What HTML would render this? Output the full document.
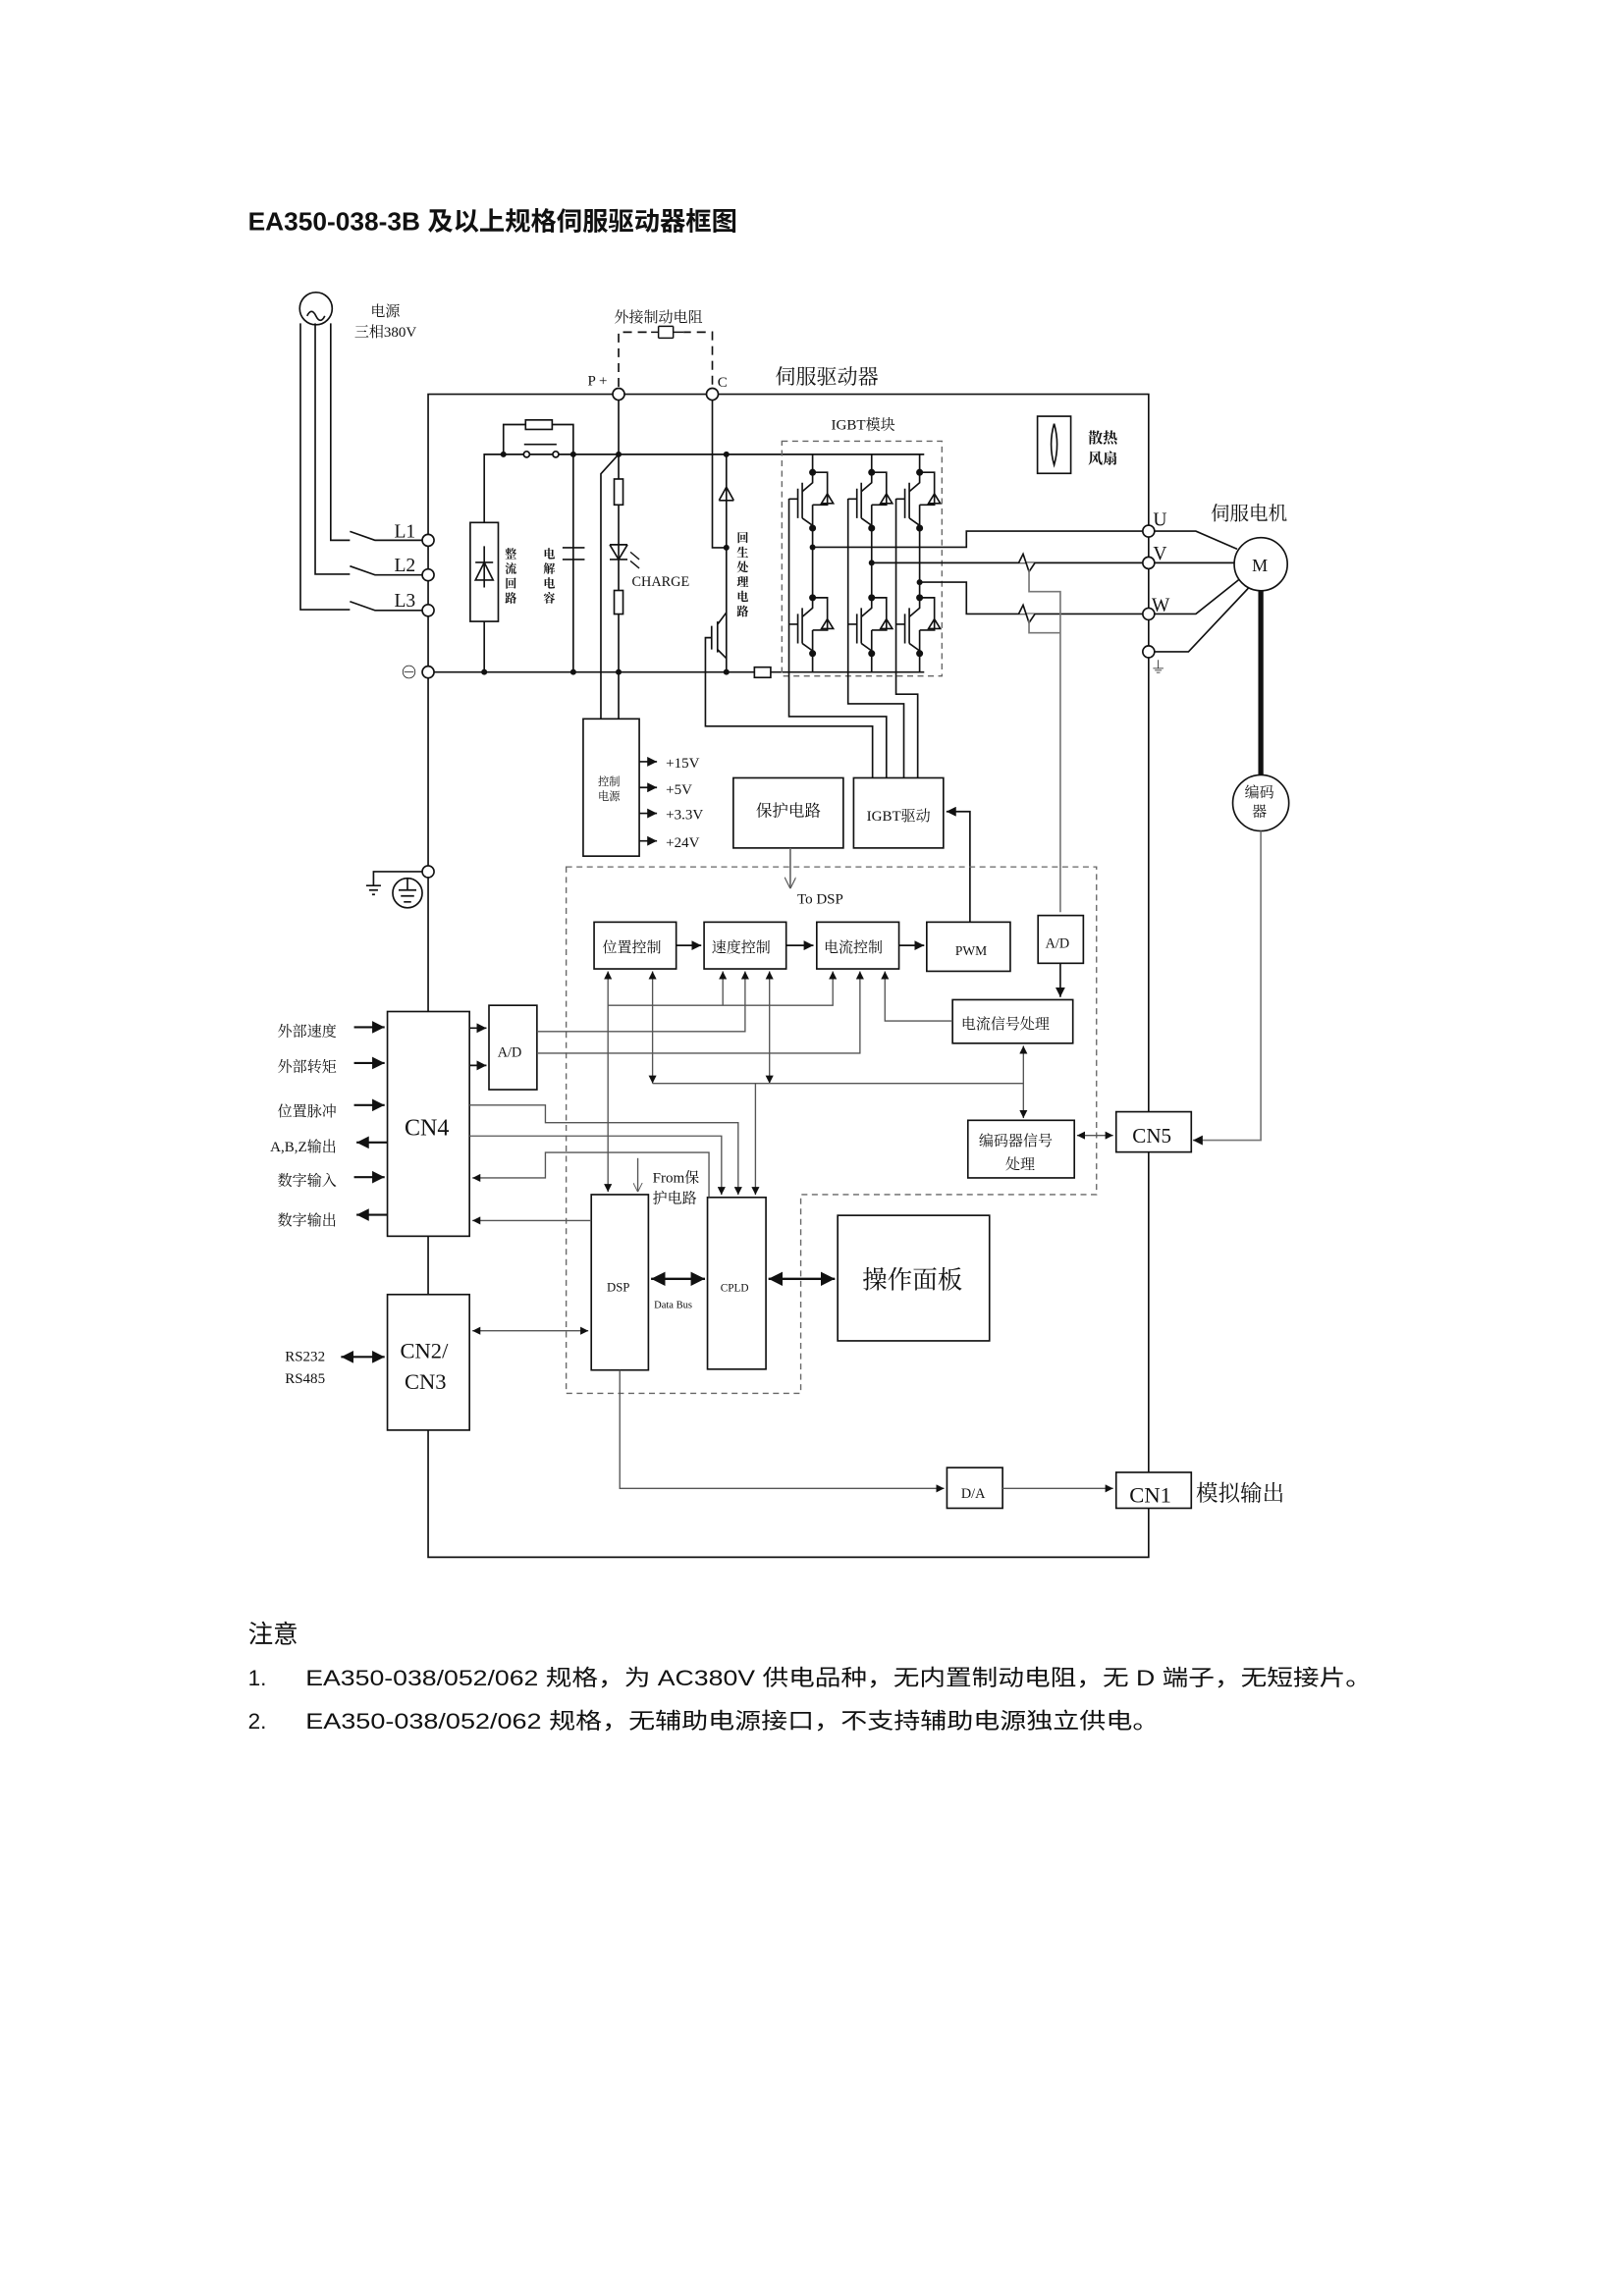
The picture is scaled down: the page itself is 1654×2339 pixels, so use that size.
<!DOCTYPE html>
<html><head><meta charset="utf-8"><style>
html,body{margin:0;padding:0;background:#fff}
svg{display:block}
text{font-family:"Liberation Serif","Noto Serif CJK SC","Noto Sans CJK SC",serif;fill:#111}
text.s{font-family:"Liberation Sans","Noto Sans CJK SC",sans-serif}
</style></head><body>
<svg width="1654" height="2339" viewBox="0 0 1100 1555.5" xmlns="http://www.w3.org/2000/svg">
<defs>
<marker id="a" viewBox="0 0 10 10" refX="10" refY="5" markerWidth="6" markerHeight="6" orient="auto-start-reverse"><path d="M0,0L10,5L0,10z" fill="#111"/></marker>
<marker id="o" viewBox="0 0 10 10" refX="10" refY="5" markerWidth="7" markerHeight="7" orient="auto"><path d="M0,0L10,5L0,10" fill="none" stroke="#555" stroke-width="1"/></marker>
<g id="igbt" fill="none" stroke="#111" stroke-width="1.1">
<path d="M0,0H10V22H0 M0,22V37.8"/>
<path d="M0,0V7L-7,13 M-7,31L0,36V37.8"/>
<path d="M-7,7V31 M-10,11V31 M-10,18H-16"/>
<path d="M6,21H14 M10,14.5L6,21H14z"/>
<circle cx="0" cy="0" r="1.8" fill="#111"/><circle cx="0" cy="37.8" r="1.8" fill="#111"/>
</g>
</defs>
<rect width="1100" height="1555.5" fill="#fff"/>
<text x="168" y="156" class="s" font-size="17.5" font-weight="bold">EA350-038-3B 及以上规格伺服驱动器框图</text>

<g fill="none" stroke="#111" stroke-width="1.1">
<path d="M290,267H778V1055H290Z"/>
<circle cx="214" cy="209" r="11"/>
<path d="M208,214q3,-6 6,0q3,6 6,0"/>
<path d="M224,219V366H237 M213.5,219V389H237 M203.5,219V413H237"/>
<path d="M237,360L254,366H290 M237,383.5L254,389.5H290 M237,407.5L254,413.5H290"/>
<rect x="318.5" y="354" width="19" height="67" fill="#fff"/>
<path d="M328,354V307.8H626 M328,421V455.3 M290,455.3H626"/>
<path d="M322,381H334 M328,370V398 M322,393L328,381L334,393Z"/>
<path d="M341,307.8V287.6H356 M374,287.6H388.3V307.8"/>
<rect x="356" y="284.5" width="18" height="6.4"/>
<path d="M355,301H377"/>
<path d="M388.3,307.8V455.3 M381,371H396 M381,379H396"/>
<path d="M419,267V307.8L407,321V488"/>
<path d="M419,307.8V488"/>
<rect x="416" y="324.5" width="6" height="17.5" fill="#fff"/>
<rect x="416" y="400" width="6" height="16" fill="#fff"/>
<path d="M413,369H425 M413,369L419,379L425,369 M413,379H425"/>
<path d="M427,374l6,5 M427,380l6,5" stroke-width="0.9"/>
<path d="M482.5,267V371H492 M492,307.8V455.3"/>
<path d="M487,339H497 M487,339L492,330L497,339"/>
<path d="M492,415L486,423 M486,440L492,446 M486,421V442 M482,424V440 M482,432H477.8V492H591V527"/>
<path d="M419,262V225H482.5V262" stroke-dasharray="6,4"/>
<rect x="441" y="222" width="22" height="6" fill="#fff" stroke="none"/>
<path d="M441,225H446 M446,221V229 M446,221H456 M446,229H456 M456,225H463 M456,221V229" stroke-width="1"/>
<rect x="529.6" y="298.9" width="108.4" height="159.1" stroke="#666" stroke-dasharray="4,3" stroke-width="0.9"/>
<path d="M550.4,307.8V320 M590.4,307.8V320 M622.9,307.8V320"/>
<path d="M550.4,357.8V404.9 M590.4,357.8V404.9 M622.9,357.8V404.9"/>
<path d="M550.4,442.7V455 M590.4,442.7V455 M622.9,442.7V455"/>
<path d="M550.4,370.7H654.6V359.8H778 M590.4,381.3H778 M622.9,394.4H654.6V415.9H778"/>
<path d="M690,381.3l3,-6l4,12l4,-6" fill="#fff"/>
<path d="M690,415.9l3,-6l4,12l4,-6" fill="#fff"/>
<path d="M697,386V400.8H718.2V618 M697,420V428.7H718.2" stroke="#777"/>
<path d="M534.4,337.8V485.4H600.4V527 M574.4,337.8V476.8H612.2V527 M606.9,337.8V470.3H621.6V527"/>
<rect x="511" y="452" width="11" height="7" fill="#fff"/>
<path d="M778,359.8H810L838,372 M778,381.3H836 M778,415.9H810L840,392 M778,441.5H805L846,398"/>
<circle cx="854" cy="382.2" r="18" fill="#fff"/>
<path d="M854,400V525" stroke-width="3.5"/>
<circle cx="854" cy="544" r="19" fill="#fff"/>
<path d="M854,563V772.5H808" stroke="#777" marker-end="url(#a)"/>
<rect x="702.7" y="282" width="22.6" height="38.7"/>
<path d="M714,287q-4,14 0,28q4,-14 0,-28"/>
<rect x="395" y="487" width="38" height="93" fill="#fff"/>
<path d="M433,516H445" marker-end="url(#a)"/>
<path d="M433,533.5H445" marker-end="url(#a)"/>
<path d="M433,551H445" marker-end="url(#a)"/>
<path d="M433,569.7H445" marker-end="url(#a)"/>
<rect x="496.7" y="527" width="74.5" height="47.5"/>
<rect x="578.2" y="527" width="60.8" height="47.5"/>
<path d="M535.3,574.5V602" stroke="#666" marker-end="url(#o)"/>
<path d="M657,624.7V549.8H641" marker-end="url(#a)"/>
<path d="M290,590.5H253V600 M248,600H258 M250,603H256 M252,606H254"/>
<circle cx="276" cy="605" r="10"/>
<path d="M276,595V603 M270,603H282 M271.5,607H280.5 M273.5,611H278.5"/>
<path d="M383.5,587.3H742.7V809.3H542.4V944H383.5Z" stroke="#666" stroke-dasharray="4,3" stroke-width="0.9"/>
<rect x="402.4" y="624.7" width="55.6" height="31.7"/>
<rect x="476.9" y="624.7" width="55.6" height="31.7"/>
<rect x="553.2" y="624.7" width="55.7" height="31.7"/>
<rect x="627.7" y="624.7" width="56.6" height="33.3"/>
<rect x="703.1" y="620.2" width="30.7" height="32.4"/>
<rect x="645.2" y="677.3" width="81.5" height="29.5" fill="#fff"/>
<rect x="655.6" y="759" width="72.1" height="39"/>
<rect x="756" y="753.2" width="50.9" height="27.3" fill="#fff"/>
<rect x="262.4" y="685.3" width="55.6" height="152.2" fill="#fff"/>
<rect x="331.2" y="681.1" width="32.5" height="57.1"/>
<rect x="262.4" y="877" width="55.6" height="91.9" fill="#fff"/>
<rect x="400.5" y="809.3" width="38.7" height="118.9"/>
<rect x="479.2" y="811.2" width="39.6" height="116.4"/>
<rect x="567.4" y="823.4" width="102.8" height="85"/>
<rect x="641.4" y="994.3" width="37.7" height="27.5"/>
<rect x="756" y="997.5" width="50.9" height="24.3" fill="#fff"/>
<path d="M458,640.5H475" marker-end="url(#a)"/>
<path d="M532.5,640.5H551" marker-end="url(#a)"/>
<path d="M608.9,640.5H626" marker-end="url(#a)"/>
<path d="M718.2,652.6V675.5" marker-end="url(#a)"/>
</g>
<g fill="none" stroke="#555" stroke-width="0.9">
<path d="M411.8,807.5V658" marker-start="url(#a)" marker-end="url(#a)"/>
<path d="M411.8,681.1H564.1V658" marker-end="url(#a)"/>
<path d="M489.6,681.1V658" marker-end="url(#a)"/>
<path d="M363.7,698.8H504.7V658" marker-end="url(#a)"/>
<path d="M363.7,713.5H582.5V658" marker-end="url(#a)"/>
<path d="M645.2,691.7H599.4V658" marker-end="url(#a)"/>
<path d="M442,734V658" marker-start="url(#a)" marker-end="url(#a)"/>
<path d="M521.2,734V658" marker-start="url(#a)" marker-end="url(#a)"/>
<path d="M442,734H693.2"/>
<path d="M693.2,757.5V708.5" marker-start="url(#a)" marker-end="url(#a)"/>
<path d="M511.7,734V809.5" marker-end="url(#a)"/>
<path d="M318,748.7H369.4V760.6H500V809.5" marker-end="url(#a)"/>
<path d="M318,769.6H488.7V809.5" marker-end="url(#a)"/>
<path d="M480.2,811V780.8H369.4V798H320" marker-end="url(#a)"/>
<path d="M400.5,826.9H320" marker-end="url(#a)"/>
<path d="M432,784.6V807.5" marker-end="url(#o)"/>
<path d="M320,901.6H398.5" marker-start="url(#a)" marker-end="url(#a)"/>
<path d="M419.8,928.2V1008.4H639.5" marker-end="url(#a)"/>
<path d="M679.1,1008.4H754" marker-end="url(#a)"/>
<path d="M729.5,769.2H754" marker-start="url(#a)" marker-end="url(#a)"/>
</g>
<g fill="none" stroke="#111" stroke-width="1.1">
<path d="M318,696.5H329.5" marker-end="url(#a)"/>
<path d="M318,721.8H329.5" marker-end="url(#a)"/>
<path d="M441,866.4H477.5" marker-start="url(#a)" marker-end="url(#a)" stroke-width="1.6"/>
<path d="M520.5,866.4H565.5" marker-start="url(#a)" marker-end="url(#a)" stroke-width="1.6"/>
</g>
<g fill="none" stroke="#111" stroke-width="1.4">
<path d="M239.8,695.9H260.5" marker-end="url(#a)"/>
<path d="M239.8,720.2H260.5" marker-end="url(#a)"/>
<path d="M239.8,748.7H260.5" marker-end="url(#a)"/>
<path d="M239.8,797.5H260.5" marker-end="url(#a)"/>
<path d="M262.4,774H241.5" marker-end="url(#a)"/>
<path d="M262.4,823H241.5" marker-end="url(#a)"/>
<path d="M231,919.3H260.5" marker-start="url(#a)" marker-end="url(#a)"/>
</g>
<use href="#igbt" x="550.4" y="320"/><use href="#igbt" x="590.4" y="320"/><use href="#igbt" x="622.9" y="320"/>
<use href="#igbt" x="550.4" y="404.9"/><use href="#igbt" x="590.4" y="404.9"/><use href="#igbt" x="622.9" y="404.9"/>
<g fill="#fff" stroke="#111" stroke-width="1.1">
<circle cx="290" cy="366" r="4"/><circle cx="290" cy="389.5" r="4"/><circle cx="290" cy="413.5" r="4"/><circle cx="290" cy="455.3" r="4"/><circle cx="290" cy="590.5" r="4"/>
<circle cx="419" cy="267" r="4"/><circle cx="482.5" cy="267" r="4"/>
<circle cx="778" cy="359.8" r="4"/><circle cx="778" cy="381.3" r="4"/><circle cx="778" cy="415.9" r="4"/><circle cx="778" cy="441.5" r="4"/>
<circle cx="356.7" cy="307.8" r="2"/><circle cx="376.4" cy="307.8" r="2"/>
</g>
<g fill="#111">
<circle cx="341" cy="307.8" r="2"/><circle cx="388.3" cy="307.8" r="2"/><circle cx="419" cy="307.8" r="2"/><circle cx="492" cy="307.8" r="2"/>
<circle cx="328" cy="455.3" r="2"/><circle cx="388.3" cy="455.3" r="2"/><circle cx="419" cy="455.3" r="2"/><circle cx="492" cy="455.3" r="2"/><circle cx="492" cy="371" r="2"/>
<circle cx="550.4" cy="370.7" r="2"/><circle cx="590.4" cy="381.3" r="2"/><circle cx="622.9" cy="394.4" r="2"/>
</g>
<g font-size="10">
<text x="251" y="214">电源</text><text x="240" y="228">三相380V</text>
<text x="416" y="218">外接制动电阻</text>
<text x="398" y="261">P +</text><text x="486" y="262">C</text>
<text x="525" y="260" font-size="14">伺服驱动器</text>
<text x="563" y="291">IGBT模块</text>
<text x="737" y="300" font-weight="bold">散热</text><text x="737" y="314" font-weight="bold">风扇</text>
<text x="820" y="352" font-size="13">伺服电机</text>
<text x="848" y="387" font-size="12">M</text>
<text x="781" y="356" font-size="13">U</text><text x="781" y="379" font-size="13">V</text><text x="780" y="414" font-size="13">W</text>
<text x="779" y="456" font-size="11">⏚</text>
<text x="267" y="364" font-size="13">L1</text><text x="267" y="387" font-size="13">L2</text><text x="267" y="411" font-size="13">L3</text>
<text x="271" y="460" font-size="12">⊖</text>
<text x="342" y="378" font-size="8" font-weight="bold">整</text><text x="342" y="388" font-size="8" font-weight="bold">流</text><text x="342" y="398" font-size="8" font-weight="bold">回</text><text x="342" y="408" font-size="8" font-weight="bold">路</text>
<text x="368" y="378" font-size="8" font-weight="bold">电</text><text x="368" y="388" font-size="8" font-weight="bold">解</text><text x="368" y="398" font-size="8" font-weight="bold">电</text><text x="368" y="408" font-size="8" font-weight="bold">容</text>
<text x="499" y="367" font-size="8" font-weight="bold">回</text><text x="499" y="377" font-size="8" font-weight="bold">生</text><text x="499" y="387" font-size="8" font-weight="bold">处</text><text x="499" y="397" font-size="8" font-weight="bold">理</text><text x="499" y="407" font-size="8" font-weight="bold">电</text><text x="499" y="417" font-size="8" font-weight="bold">路</text>
<text x="428" y="397" font-size="9.5">CHARGE</text>
<text x="405" y="532" font-size="7.5">控制</text><text x="405" y="542" font-size="7.5">电源</text>
<text x="451" y="520">+15V</text><text x="451" y="538">+5V</text><text x="451" y="555">+3.3V</text><text x="451" y="574">+24V</text>
<text x="512" y="553" font-size="11">保护电路</text>
<text x="587" y="556">IGBT驱动</text>
<text x="540" y="612">To DSP</text>
<text x="843" y="540" font-size="10">编码</text><text x="848" y="553" font-size="10">器</text>
<text x="408" y="645">位置控制</text><text x="482" y="645">速度控制</text><text x="558" y="645">电流控制</text>
<text x="647" y="647" font-size="9">PWM</text>
<text x="708" y="642" font-size="9.5">A/D</text>
<text x="651" y="697">电流信号处理</text>
<text x="663" y="776">编码器信号</text><text x="681" y="792">处理</text>
<text x="767" y="774" font-size="14">CN5</text>
<text x="337" y="716" font-size="9.5">A/D</text>
<text x="274" y="769" font-size="16">CN4</text>
<text x="271" y="920" font-size="15">CN2/</text><text x="274" y="941" font-size="15">CN3</text>
<text x="411" y="875" font-size="8.5">DSP</text>
<text x="488" y="875" font-size="7.5">CPLD</text>
<text x="443" y="886" font-size="7">Data Bus</text>
<text x="584" y="873" font-size="17">操作面板</text>
<text x="442" y="801">From保</text><text x="442" y="815">护电路</text>
<text x="651" y="1015" font-size="9.5">D/A</text>
<text x="765" y="1018" font-size="15">CN1</text>
<text x="810" y="1017" font-size="15">模拟输出</text>
<text x="188" y="702">外部速度</text><text x="188" y="726">外部转矩</text><text x="188" y="756">位置脉冲</text>
<text x="183" y="780">A,B,Z输出</text><text x="188" y="803">数字输入</text><text x="188" y="830">数字输出</text>
<text x="193" y="922">RS232</text><text x="193" y="937">RS485</text>
</g>
<text class="s" x="168" y="1113" font-size="17">注意</text>
<text class="s" x="168" y="1142" font-size="15">1.</text>
<text class="s" x="207" y="1142" font-size="15" textLength="722" lengthAdjust="spacingAndGlyphs">EA350-038/052/062 规格，为 AC380V 供电品种，无内置制动电阻，无 D 端子，无短接片。</text>
<text class="s" x="168" y="1171" font-size="15">2.</text>
<text class="s" x="207" y="1171" font-size="15" textLength="578" lengthAdjust="spacingAndGlyphs">EA350-038/052/062 规格，无辅助电源接口，不支持辅助电源独立供电。</text>
</svg>
</body></html>
